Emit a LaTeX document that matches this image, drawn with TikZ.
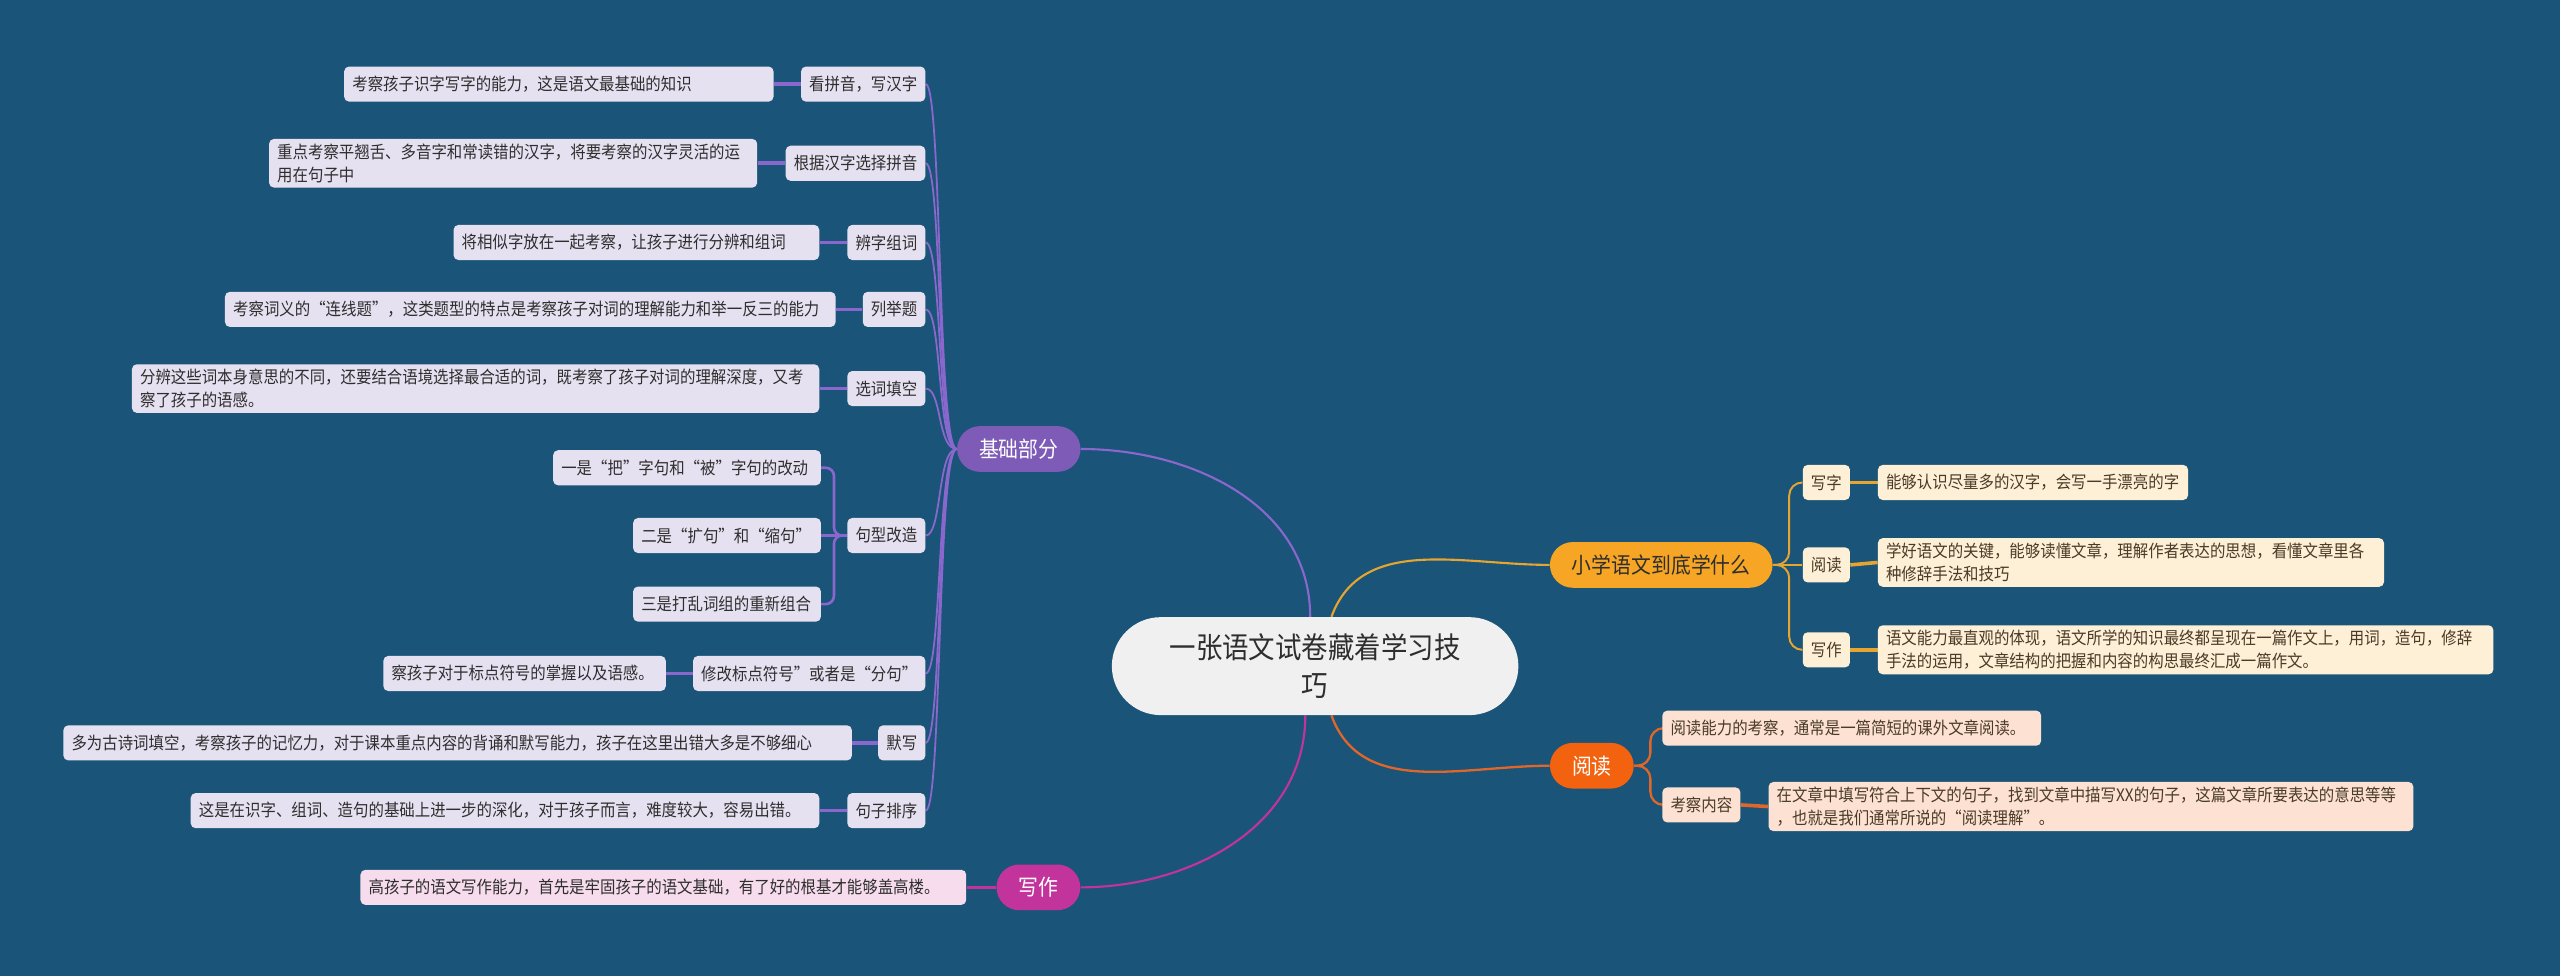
\documentclass[tikz,border=0pt]{standalone}
\usepackage{fontspec}
\setmainfont[FakeStretch=0.9]{Noto Sans CJK SC}
\definecolor{bgc}{HTML}{1A5478}
\definecolor{txt}{HTML}{2E2E2E}
\definecolor{otxt}{HTML}{4A3B28}
\definecolor{purp}{HTML}{7D5BB7}
\definecolor{purpline}{HTML}{8A67CC}
\definecolor{lav}{HTML}{E6E1F1}
\definecolor{mag}{HTML}{C2349C}
\definecolor{pink}{HTML}{F6DCEC}
\definecolor{ora}{HTML}{F6A524}
\definecolor{oraline}{HTML}{E6A531}
\definecolor{cream}{HTML}{FDF0D6}
\definecolor{red}{HTML}{F2620F}
\definecolor{redline}{HTML}{E0662A}
\definecolor{peach}{HTML}{FDE1D2}
\definecolor{centfill}{HTML}{F0F0F0}
\pgfdeclarelayer{background}
\pgfdeclarelayer{edges}
\pgfsetlayers{background,edges,main}
\tikzset{
  leaf/.style={rounded corners=3pt, inner xsep=5pt, inner ysep=3pt, minimum height=21.5pt,
    font=\fontsize{10.5}{14}\selectfont, text=txt, align=left},
  pleaf/.style={leaf, fill=lav},
  mleaf/.style={leaf, fill=pink},
  oleaf/.style={leaf, fill=cream, text=otxt},
  rleaf/.style={leaf, fill=peach, text=otxt},
  branch/.style={rounded corners=14pt, minimum height=28pt, inner xsep=13.5pt, inner ysep=0pt,
    font=\fontsize{13.5}{16}\selectfont},
  cent/.style={rounded corners=30pt, minimum height=60pt, text width=200pt, inner xsep=24.5pt,
    align=center, fill=centfill, text=txt, font=\fontsize{18}{23}\selectfont},
  pspine/.style={draw=purpline, line width=1.1pt},
  plink/.style={draw=purpline, line width=2.2pt},
  ospine/.style={draw=oraline, line width=1.2pt},
  olink/.style={draw=oraline, line width=2.2pt},
  rspine/.style={draw=redline, line width=1.4pt},
  rlink/.style={draw=redline, line width=2.2pt},
  mlink/.style={draw=mag, line width=2.2pt},
}
\begin{document}
\begin{tikzpicture}[x=1pt,y=-1pt]
\useasboundingbox (0,0) rectangle (1568,598);
\begin{pgfonlayer}{background}
\fill[bgc] (0,0) rectangle (1568,598);
\end{pgfonlayer}

% center and main branches
\node[cent] (c) at (805.5,408) {一张语文试卷藏着学习技\\巧};
\node[branch, fill=purp, text=white] (jc) at (624,275) {基础部分};
\node[branch, fill=mag, text=white] (xz) at (636,543.5) {写作};
\node[branch, fill=ora, text=txt] (xx) at (1017.5,346) {小学语文到底学什么};
\node[branch, fill=red, text=white] (yd) at (975,469) {阅读};

% left children
\node[pleaf, anchor=east] (k1) at (567,51.5) {看拼音，写汉字};
\node[pleaf, anchor=east] (k2) at (567,100) {根据汉字选择拼音};
\node[pleaf, anchor=east] (k3) at (567,148.5) {辨字组词};
\node[pleaf, anchor=east] (k4) at (567,189.5) {列举题};
\node[pleaf, anchor=east] (k5) at (567,238) {选词填空};
\node[pleaf, anchor=east] (k6) at (567,328) {句型改造};
\node[pleaf, anchor=east] (k7) at (567,412.5) {修改标点符号”或者是“分句”};
\node[pleaf, anchor=east] (k8) at (567,455) {默写};
\node[pleaf, anchor=east] (k9) at (567,496.5) {句子排序};

\node[pleaf, anchor=east, text width=253pt] (d1) at (474,51.5) {考察孩子识字写字的能力，这是语文最基础的知识};
\node[pleaf, anchor=east, text width=289pt] (d2) at (464,100) {重点考察平翘舌、多音字和常读错的汉字，将要考察的汉字灵活的运\\用在句子中};
\node[pleaf, anchor=east, text width=214pt] (d3) at (502,148.5) {将相似字放在一起考察，让孩子进行分辨和组词};
\node[pleaf, anchor=east, text width=364pt] (d4) at (512,189.5) {考察词义的“连线题”，这类题型的特点是考察孩子对词的理解能力和举一反三的能力};
\node[pleaf, anchor=east, text width=411pt] (d5) at (502,238) {分辨这些词本身意思的不同，还要结合语境选择最合适的词，既考察了孩子对词的理解深度，又考\\察了孩子的语感。};
\node[pleaf, anchor=east, text width=154pt] (s1) at (503,286.5) {一是“把”字句和“被”字句的改动};
\node[pleaf, anchor=east, text width=105pt] (s2) at (503,328) {二是“扩句”和“缩句”};
\node[pleaf, anchor=east, text width=105pt] (s3) at (503,370) {三是打乱词组的重新组合};
\node[pleaf, anchor=east, text width=163pt] (d7) at (408,412.5) {察孩子对于标点符号的掌握以及语感。};
\node[pleaf, anchor=east, text width=473pt] (d8) at (522,455) {多为古诗词填空，考察孩子的记忆力，对于课本重点内容的背诵和默写能力，孩子在这里出错大多是不够细心};
\node[pleaf, anchor=east, text width=375pt] (d9) at (502,496.5) {这是在识字、组词、造句的基础上进一步的深化，对于孩子而言，难度较大，容易出错。};
\node[mleaf, anchor=east, text width=361pt] (w1) at (592,543.5) {高孩子的语文写作能力，首先是牢固孩子的语文基础，有了好的根基才能够盖高楼。};

% right children
\node[oleaf, anchor=west] (y1) at (1104,295.5) {写字};
\node[oleaf, anchor=west] (y2) at (1104,346) {阅读};
\node[oleaf, anchor=west] (y3) at (1104,398) {写作};
\node[oleaf, anchor=west, text width=180pt] (x1) at (1150,295.5) {能够认识尽量多的汉字，会写一手漂亮的字};
\node[oleaf, anchor=west, text width=300pt] (x2) at (1150,344.5) {学好语文的关键，能够读懂文章，理解作者表达的思想，看懂文章里各\\种修辞手法和技巧};
\node[oleaf, anchor=west, text width=367pt] (x3) at (1150,398) {语文能力最直观的体现，语文所学的知识最终都呈现在一篇作文上，用词，造句，修辞\\手法的运用，文章结构的把握和内容的构思最终汇成一篇作文。};
\node[rleaf, anchor=west, text width=222pt] (r1) at (1018,446) {阅读能力的考察，通常是一篇简短的课外文章阅读。};
\node[rleaf, anchor=west] (rk) at (1018,493) {考察内容};
\node[rleaf, anchor=west, text width=385pt] (r2) at (1083,494) {在文章中填写符合上下文的句子，找到文章中描写XX的句子，这篇文章所要表达的意思等等\\，也就是我们通常所说的“阅读理解”。};

\begin{pgfonlayer}{edges}
% center connectors
\draw[draw=purpline, line width=1.3pt] (jc.east) to[out=0,in=90] ([xshift=-3pt]c.north);
\draw[draw=mag, line width=1.3pt] ([xshift=-6pt]c.south) to[out=-90,in=0] (xz.east);
\draw[draw=oraline, line width=1.3pt] ([xshift=10pt]c.north) to[out=70,in=180] (xx.west);
\draw[draw=redline, line width=1.4pt] ([xshift=10pt]c.south) to[out=-70,in=180] (yd.west);
% left spines
\foreach \n in {k1,k2,k3,k4,k5,k6,k7,k8,k9}
  \draw[pspine] (jc.west) .. controls +(-12,0) and +(10,0) .. (\n.east);
\draw[plink] (k1.west) -- (d1.east);
\draw[plink] (k2.west) -- (d2.east);
\draw[plink] (k3.west) -- (d3.east);
\draw[plink] (k4.west) -- (d4.east);
\draw[plink] (k5.west) -- (d5.east);
\draw[plink] (k7.west) -- (d7.east);
\draw[plink] (k8.west) -- (d8.east);
\draw[plink] (k9.west) -- (d9.east);
\draw[pspine, line width=1.6pt, rounded corners=5pt] (k6.west) -- ++(-8,0) |- (s1.east);
\draw[pspine, line width=1.6pt, rounded corners=5pt] (k6.west) -- ++(-8,0) |- (s3.east);
\draw[pspine, line width=1.6pt] (k6.west) -- (s2.east);
\draw[mlink] (xz.west) -- (w1.east);
% right spines
\draw[ospine, rounded corners=8pt] (xx.east) -- ++(10,0) |- (y1.west);
\draw[ospine] (xx.east) -- (y2.west);
\draw[ospine, rounded corners=8pt] (xx.east) -- ++(10,0) |- (y3.west);
\draw[olink] (y1.east) -- (x1.west);
\draw[olink] (y2.east) -- (x2.west);
\draw[olink] (y3.east) -- (x3.west);
\draw[rspine, rounded corners=8pt] (yd.east) -- ++(10,0) |- (r1.west);
\draw[rspine, rounded corners=8pt] (yd.east) -- ++(10,0) |- (rk.west);
\draw[rlink] (rk.east) -- (r2.west);
\end{pgfonlayer}
\end{tikzpicture}
\end{document}
